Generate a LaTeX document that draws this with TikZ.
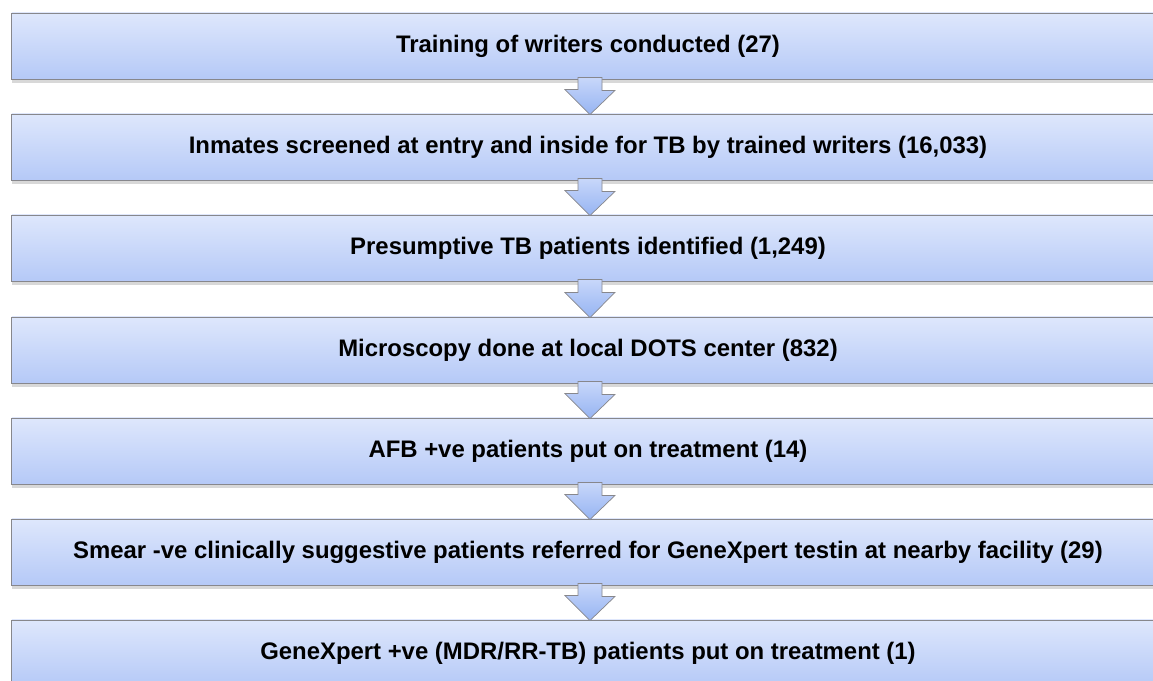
\documentclass[tikz,border=0pt]{standalone}
\usepackage{fontspec}
\setmainfont{Liberation Sans}
\usepackage{tikz}
\usetikzlibrary{calc,shadows,positioning}

\definecolor{boxtop}{RGB}{222,231,252}
\definecolor{boxbot}{RGB}{181,201,247}
\definecolor{arrtop}{RGB}{200,215,250}
\definecolor{arrbot}{RGB}{150,180,242}
\definecolor{rim}{RGB}{135,135,140}

\begin{document}
\begin{tikzpicture}[x=0.025cm, y=-0.025cm,
    stage/.style={rectangle, draw=rim, line width=0.6pt, top color=boxtop, bottom color=boxbot,
      minimum width=28.8cm, minimum height=1.65cm, inner sep=0pt,
      font=\fontsize{17}{20}\selectfont\bfseries,
      drop shadow={opacity=0.3, shadow xshift=0pt, shadow yshift=-3pt}},
    downarrow/.style={draw=rim, line width=0.5pt, top color=arrtop, bottom color=arrbot,
      line join=miter}]
   \clip (0,0) rectangle (1153,681);
   \fill[white] (0,0) rectangle (1153,681);

   \node[stage] (s1) at (588,46) {Training of writers conducted (27)};
   \node[stage] (s2) at (588,147) {Inmates screened at entry and inside for TB by trained writers (16,033)};
   \node[stage] (s3) at (588,248) {Presumptive TB patients identified (1,249)};
   \node[stage] (s4) at (588,350) {Microscopy done at local DOTS center (832)};
   \node[stage] (s5) at (588,451) {AFB +ve patients put on treatment (14)};
   \node[stage] (s6) at (588,552) {Smear -ve clinically suggestive patients referred for GeneXpert testin at nearby facility (29)};
   \node[stage] (s7) at (588,653) {GeneXpert +ve (MDR/RR-TB) patients put on treatment (1)};

   \foreach \i [count=\j from 2] in {1,...,6}
     \draw[downarrow] ($(s\i.south)+(-10,-2)$) -- ++(24,0) -- ++(0,13) -- ++(13,0)
       -- ($(s\j.north)+(2,1)$) -- ++(-25,-25) -- ++(13,0) -- cycle;
\end{tikzpicture}
\end{document}
